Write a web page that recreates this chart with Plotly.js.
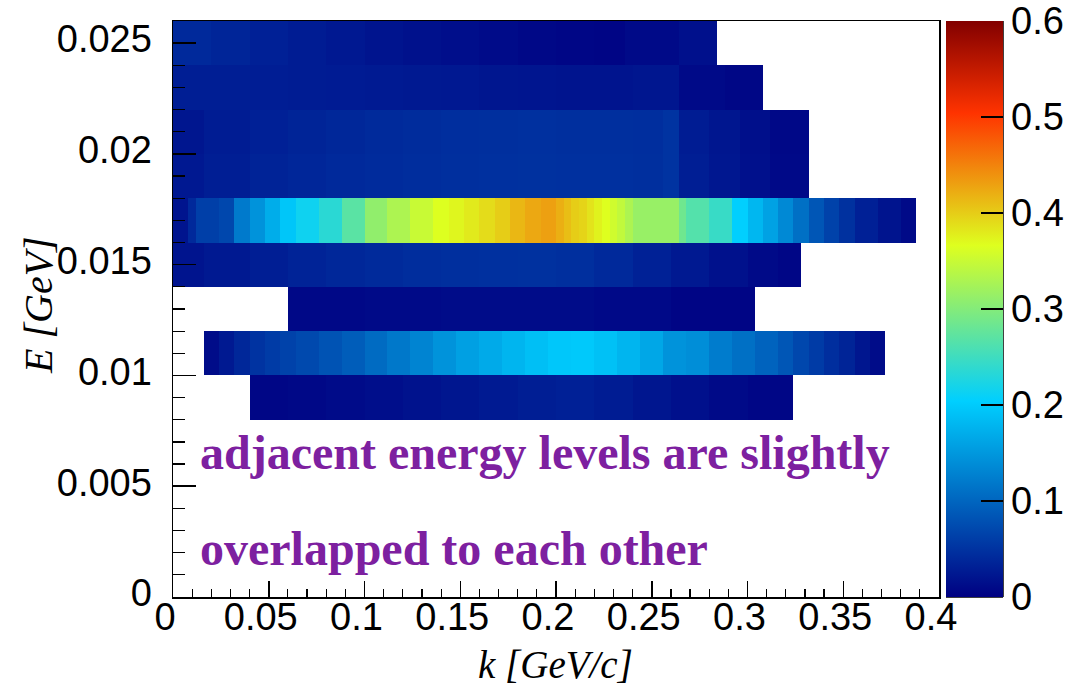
<!DOCTYPE html>
<html>
<head>
<meta charset="utf-8">
<script src="https://cdn.plot.ly/plotly-3.0.1.min.js"></script>
<style>html,body{margin:0;padding:0;background:#fff;}#plot{width:1072px;height:687px;}</style>
</head>
<body>
<div id="plot"></div>
<script>
// ---- Data: energy bands (E bin edges in GeV) and k-segment edges (GeV/c) with values ----
const eA = [0.024, 0.026];
const kA = [0, 0.02, 0.04, 0.06, 0.08, 0.10, 0.12, 0.14, 0.16, 0.18, 0.20, 0.22, 0.236, 0.264, 0.284];
const vA = [0.04, 0.036, 0.032, 0.028, 0.024, 0.02, 0.017, 0.014, 0.011, 0.008, 0.006, 0.005, 0.01, 0.016];

const eB = [0.022, 0.024];
const kB = [0, 0.02, 0.04, 0.06, 0.08, 0.10, 0.12, 0.14, 0.16, 0.18, 0.20, 0.24, 0.264, 0.288, 0.308];
const vB = [0.03, 0.03, 0.029, 0.028, 0.027, 0.026, 0.025, 0.024, 0.022, 0.021, 0.02, 0.022, 0.01, 0.007];

const eC = [0.020, 0.022];
const kC = [0, 0.016, 0.04, 0.06, 0.08, 0.10, 0.12, 0.14, 0.16, 0.18, 0.20, 0.24, 0.256, 0.264, 0.28, 0.296, 0.312, 0.332];
const vC = [0.022, 0.028, 0.032, 0.035, 0.038, 0.041, 0.043, 0.045, 0.046, 0.047, 0.046, 0.045, 0.05, 0.028, 0.022, 0.015, 0.008];

const eD = [0.018, 0.020];
const kD = [0, 0.016, 0.04, 0.06, 0.08, 0.10, 0.12, 0.14, 0.16, 0.18, 0.20, 0.24, 0.256, 0.264, 0.28, 0.296, 0.312, 0.332];
const vD = [0.024, 0.03, 0.034, 0.037, 0.04, 0.042, 0.044, 0.046, 0.047, 0.048, 0.047, 0.046, 0.05, 0.03, 0.023, 0.016, 0.009];

const eE = [0.016, 0.018];
const kE = [0, 0.008, 0.012, 0.024, 0.032, 0.040, 0.048, 0.056, 0.064, 0.076, 0.088, 0.100, 0.112, 0.124, 0.136, 0.144,
            0.152, 0.160, 0.168, 0.176, 0.184, 0.192, 0.200, 0.204, 0.208, 0.212, 0.216, 0.220, 0.224, 0.228, 0.232,
            0.236, 0.240, 0.264, 0.268, 0.280, 0.292, 0.300, 0.308, 0.316, 0.324, 0.332, 0.340, 0.348, 0.356, 0.368, 0.380, 0.388];
const vE = [0.02, 0.04, 0.062, 0.07, 0.12, 0.145, 0.17, 0.195, 0.215, 0.235, 0.27, 0.31, 0.33, 0.35, 0.365,
            0.372, 0.38, 0.39, 0.40, 0.415, 0.425, 0.43, 0.42, 0.41, 0.40, 0.395, 0.385, 0.375, 0.366, 0.355,
            0.345, 0.33, 0.315, 0.285, 0.265, 0.245, 0.205, 0.18, 0.16, 0.135, 0.11, 0.085, 0.065, 0.048, 0.032, 0.02, 0.01];

const eF = [0.014, 0.016];
const kF = [0, 0.016, 0.04, 0.06, 0.08, 0.10, 0.12, 0.14, 0.16, 0.18, 0.20, 0.22, 0.24, 0.26, 0.28, 0.30, 0.316, 0.328];
const vF = [0.02, 0.025, 0.03, 0.034, 0.038, 0.041, 0.044, 0.046, 0.047, 0.048, 0.046, 0.04, 0.033, 0.025, 0.017, 0.01, 0.006];

const eG = [0.012, 0.014];
const kG = [0.06, 0.1, 0.14, 0.18, 0.22, 0.26, 0.304];
const vG = [0.008, 0.01, 0.012, 0.012, 0.009, 0.005];

const eH = [0.010, 0.012];
const kH = [0.016, 0.024, 0.032, 0.04, 0.048, 0.056, 0.064, 0.076, 0.088, 0.1, 0.112, 0.124, 0.136, 0.148, 0.16, 0.172,
            0.184, 0.196, 0.208, 0.22, 0.232, 0.244, 0.256, 0.268, 0.28, 0.292, 0.304, 0.316, 0.324, 0.332, 0.34, 0.348, 0.356, 0.364, 0.372];
const vH = [0.012, 0.025, 0.038, 0.05, 0.058, 0.065, 0.072, 0.082, 0.092, 0.105, 0.118, 0.13, 0.145, 0.158, 0.168, 0.178,
            0.188, 0.196, 0.198, 0.19, 0.178, 0.165, 0.145, 0.14, 0.122, 0.11, 0.098, 0.085, 0.07, 0.058, 0.045, 0.035, 0.022, 0.012];

const eI = [0.008, 0.010];
const kI = [0.04, 0.06, 0.08, 0.1, 0.12, 0.14, 0.16, 0.18, 0.2, 0.22, 0.24, 0.26, 0.28, 0.3, 0.324];
const vI = [0.006, 0.008, 0.011, 0.014, 0.018, 0.022, 0.026, 0.03, 0.032, 0.028, 0.022, 0.016, 0.01, 0.006];

const bands = [[eI,kI,vI],[eH,kH,vH],[eG,kG,vG],[eF,kF,vF],[eE,kE,vE],[eD,kD,vD],[eC,kC,vC],[eB,kB,vB],[eA,kA,vA]];

const xTitle = 'k [GeV/c]';
const yTitle = 'E [GeV]';
const note1 = 'adjacent energy levels are slightly';
const note2 = 'overlapped to each other';

// ---- Build one shared grid (table the heatmap needs) from the band arrays ----
const r6 = v => Math.round(v * 1e6) / 1e6;
const xEdges = Array.from(new Set(bands.flatMap(b => b[1].map(r6)))).sort((a, b) => a - b);
const yEdges = Array.from(new Set(bands.flatMap(b => b[0].map(r6)))).sort((a, b) => a - b);
const zGrid = bands.map(([e, k, v]) => {
  const row = [];
  for (let i = 0; i < xEdges.length - 1; i++) {
    const lo = xEdges[i], hi = xEdges[i + 1];
    let val = null;
    for (let j = 0; j < v.length; j++) {
      if (lo >= r6(k[j]) && hi <= r6(k[j + 1])) { val = v[j]; break; }
    }
    row.push(val);
  }
  return row;
});

// ---- Style ----
const W = 1072, H = 687;
const M = {l: 173, r: 133, t: 21, b: 90, autoexpand: false};
const PW = W - M.l - M.r, PH = H - M.t - M.b;
const px2x = p => (p - M.l) / PW;
const py2y = p => (H - M.b - p) / PH;

const scale = [[0, 'rgb(0,0,130)'], [0.34, 'rgb(0,207,255)'], [0.61, 'rgb(222,255,31)'], [0.84, 'rgb(255,51,0)'], [1, 'rgb(130,0,0)']];
const tickFont = {family: 'Liberation Sans, Arial, sans-serif', size: 38, color: '#000'};
const serif = 'Liberation Serif, Times New Roman, serif';

const traces = [{
  type: 'heatmap',
  x: xEdges, y: yEdges, z: zGrid,
  zmin: 0, zmax: 0.6, zsmooth: false,
  colorscale: scale,
  showscale: true,
  hoverongaps: false,
  colorbar: {
    x: px2x(946), xanchor: 'left', xref: 'paper',
    y: 0, yanchor: 'bottom', yref: 'paper', len: 1, lenmode: 'fraction',
    thickness: 57, thicknessmode: 'pixels', xpad: 0, ypad: 0,
    outlinewidth: 0,
    ticks: 'inside', ticklen: 22, tickwidth: 1.5, tickcolor: '#000',
    tick0: 0, dtick: 0.1, tickfont: tickFont
  }
}];

const layout = {
  width: W, height: H,
  margin: M,
  paper_bgcolor: '#fff', plot_bgcolor: '#fff',
  showlegend: false,
  xaxis: {
    range: [0, 0.4], showgrid: false, zeroline: false,
    showline: true, linecolor: '#000', linewidth: 1.5, mirror: true,
    ticks: 'inside', ticklen: 16, tickwidth: 1.5, tickcolor: '#000',
    tick0: 0, dtick: 0.05, tickfont: tickFont, ticklabelshift: -8, ticklabelstandoff: -14,
    minor: {ticks: 'inside', ticklen: 8, tickwidth: 1.2, tickcolor: '#000', dtick: 0.01, showgrid: false}
  },
  yaxis: {
    range: [0, 0.026], showgrid: false, zeroline: false,
    showline: true, linecolor: '#000', linewidth: 1.5, mirror: true,
    ticks: 'inside', ticklen: 23, tickwidth: 1.5, tickcolor: '#000',
    tick0: 0, dtick: 0.005, tickfont: tickFont, ticklabelshift: -4, ticklabelstandoff: 12,
    minor: {ticks: 'inside', ticklen: 12, tickwidth: 1.2, tickcolor: '#000', dtick: 0.001, showgrid: false}
  },
  shapes: [
    {type: 'line', xref: 'paper', yref: 'paper', x0: px2x(1003), x1: px2x(1003), y0: 0, y1: 1, line: {color: '#000', width: 1.5}},
    {type: 'line', xref: 'paper', yref: 'paper', x0: px2x(946), x1: px2x(1003), y0: 0, y1: 0, line: {color: '#000', width: 1.5}},
    {type: 'line', xref: 'paper', yref: 'paper', x0: px2x(946), x1: px2x(1002), y0: py2y(240), y1: py2y(240), line: {color: '#fff', width: 1}}
  ],
  annotations: [
    {text: xTitle, xref: 'paper', yref: 'paper', x: px2x(555), y: py2y(664), xanchor: 'center', yanchor: 'middle',
     showarrow: false, font: {family: serif, size: 39, style: 'italic', color: '#000'}},
    {text: yTitle, xref: 'paper', yref: 'paper', x: px2x(38), y: py2y(305), xanchor: 'center', yanchor: 'middle',
     textangle: -90, showarrow: false, font: {family: serif, size: 40, style: 'italic', color: '#000'}},
    {text: note1, xref: 'paper', yref: 'paper', x: px2x(198), y: py2y(452), xanchor: 'left', yanchor: 'middle',
     showarrow: false, font: {family: serif, size: 48, weight: 'bold', color: '#7d20a0'}},
    {text: note2, xref: 'paper', yref: 'paper', x: px2x(198), y: py2y(548), xanchor: 'left', yanchor: 'middle',
     showarrow: false, font: {family: serif, size: 48, weight: 'bold', color: '#7d20a0'}}
  ]
};

Plotly.newPlot('plot', traces, layout, {displayModeBar: false, staticPlot: true});
</script>
</body>
</html>
